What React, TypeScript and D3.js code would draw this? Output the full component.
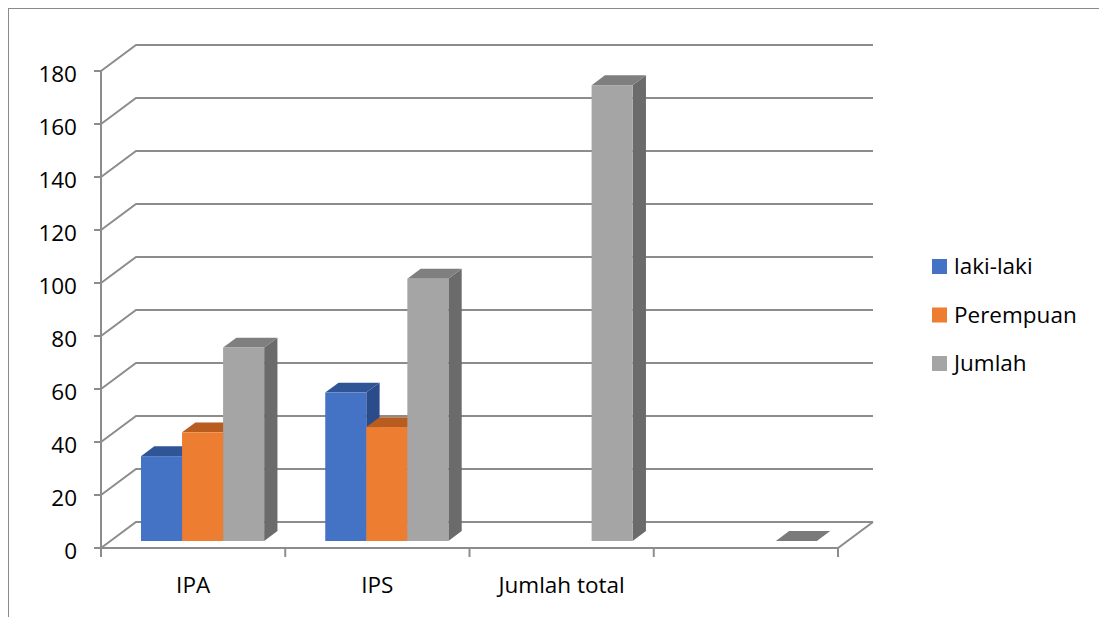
import React from "react";
import * as d3 from "d3";

const categories = ["IPA", "IPS", "Jumlah total", ""];
const seriesNames = ["laki-laki", "Perempuan", "Jumlah"];
const lakiLaki: (number | null)[] = [32, 56, null, null];
const perempuan: (number | null)[] = [41, 43, null, null];
const jumlah: (number | null)[] = [73, 99, 172, 0];
const yTicks = [0, 20, 40, 60, 80, 100, 120, 140, 160, 180];

const seriesValues = [lakiLaki, perempuan, jumlah];
const colors = [
  { front: "#4472C4", top: "#2F5597", side: "#2B4C8A" },
  { front: "#ED7D31", top: "#B85D1F", side: "#A9531A" },
  { front: "#A5A5A5", top: "#7F7F7F", side: "#6B6B6B" },
];

const W = 1099, H = 617;
const FONT = "'Open Sans', 'Noto Sans', sans-serif";

export default function App() {
  const x0 = 101, x1 = 838;
  const y = d3.scaleLinear().domain([0, 180]).range([548, 71]);
  const xCat = d3.scaleBand<string>().domain(categories).range([x0, x1]).padding(0);
  const xSer = d3
    .scaleBand<string>()
    .domain(seriesNames)
    .range([0, xCat.bandwidth()])
    .paddingInner(0)
    .paddingOuter(0.744);
  const DX = 35, DY = -26; // full depth
  const f0 = 0.27, f1 = 0.65;
  const bfx = DX * f0, bfy = DY * f0;
  const bdx = DX * (f1 - f0), bdy = DY * (f1 - f0);
  const grid = "#8C8C8C";

  const bars: JSX.Element[] = [];
  categories.forEach((c, ci) => {
    seriesNames.forEach((s, si) => {
      const v = seriesValues[si][ci];
      if (v === null || v === undefined) return;
      const xl = (xCat(c) as number) + (xSer(s) as number) + bfx;
      const w = xSer.bandwidth();
      const yb = y(0) + bfy;
      const yt = y(v) + bfy;
      const col = colors[si];
      const side = `M${xl + w},${yb} L${xl + w + bdx},${yb + bdy} L${xl + w + bdx},${yt + bdy} L${xl + w},${yt} Z`;
      const top = `M${xl},${yt} L${xl + bdx},${yt + bdy} L${xl + w + bdx},${yt + bdy} L${xl + w},${yt} Z`;
      bars.push(
        <g key={`${ci}-${si}`}>
          {v > 0 && <path d={side} fill={col.side} />}
          <path d={top} fill={v > 0 ? col.top : "#7A7A7A"} />
          {v > 0 && <rect x={xl} y={yt} width={w} height={yb - yt} fill={col.front} />}
        </g>
      );
    });
  });

  return (
    <svg
      width={W}
      height={H}
      style={{ position: "fixed", left: 0, top: 0, background: "#fff" }}
      fontFamily={FONT}
    >
      <rect x={8.5} y={8.5} width={W + 20} height={H + 20} fill="none" stroke="#8A8A8A" strokeWidth={1} />
      {yTicks.map((t) => (
        <path
          key={t}
          d={`M${x0},${y(t)} L${x0 + DX},${y(t) + DY} L${x1 + DX},${y(t) + DY}`}
          fill="none"
          stroke={grid}
          strokeWidth={2}
        />
      ))}
      <path d={`M${x0},${y(0)} L${x1},${y(0)} L${x1 + DX},${y(0) + DY}`} fill="none" stroke={grid} strokeWidth={2} />
      <line x1={x0} x2={x0} y1={y(180)} y2={y(0)} stroke={grid} strokeWidth={2} />
      {yTicks.map((t) => (
        <g key={`t${t}`}>
          <line x1={x0 - 7} x2={x0} y1={y(t)} y2={y(t)} stroke={grid} strokeWidth={2} />
          <text x={77} y={y(t) + 10.5} textAnchor="end" fontSize={22.5} fill="#000">
            {t}
          </text>
        </g>
      ))}
      {[...categories.map((c) => xCat(c) as number), x1].map((xv, i) => (
        <line key={`c${i}`} x1={xv} x2={xv} y1={y(0)} y2={y(0) + 9} stroke={grid} strokeWidth={2} />
      ))}
      {categories.map((c) => (
        <text
          key={`l${c}`}
          x={(xCat(c) as number) + xCat.bandwidth() / 2}
          y={593}
          textAnchor="middle"
          fontSize={22.5}
          fill="#000"
        >
          {c}
        </text>
      ))}
      {bars}
      {seriesNames.map((s, i) => (
        <g key={`lg${s}`}>
          <rect x={932} y={259 + i * 48.5} width={15} height={15} fill={colors[i].front} />
          <text x={954} y={274 + i * 48.5} fontSize={22.5} fill="#000">
            {s}
          </text>
        </g>
      ))}
    </svg>
  );
}
